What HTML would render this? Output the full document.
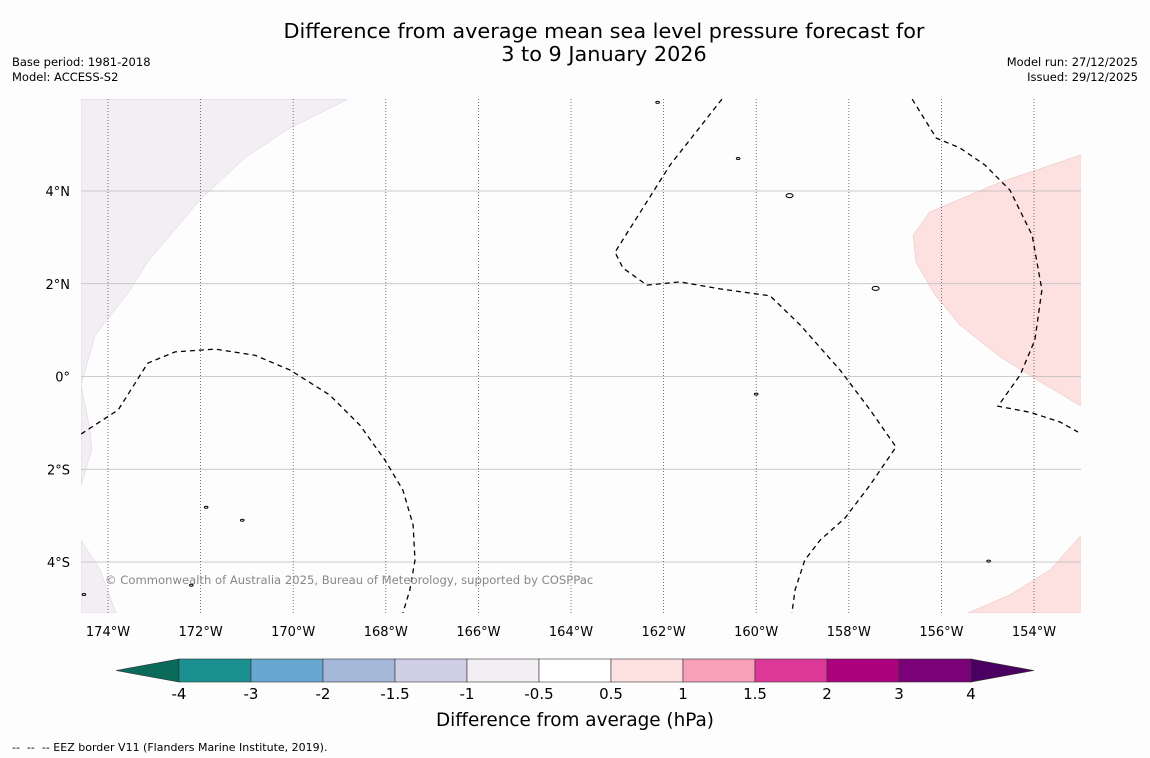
<!DOCTYPE html>
<html><head><meta charset="utf-8"><style>
body{margin:0;background:#fff;}
svg{display:block;font-family:"DejaVu Sans","Liberation Sans",sans-serif;}
</style></head><body>
<svg id="c" width="1150" height="758" viewBox="0 0 1150 758">
<rect width="1150" height="758" fill="#fdfdfd"/>
<text x="604" y="38" font-size="20.8" text-anchor="middle">Difference from average mean sea level pressure forecast for</text>
<text x="604" y="61" font-size="20.8" text-anchor="middle">3 to 9 January 2026</text>
<text x="12" y="66" font-size="11.5">Base period: 1981-2018</text>
<text x="12" y="81" font-size="11.5">Model: ACCESS-S2</text>
<text x="1138" y="66" font-size="11.5" text-anchor="end">Model run: 27/12/2025</text>
<text x="1138" y="81" font-size="11.5" text-anchor="end">Issued: 29/12/2025</text>
<g id="map"></g>
<g id="cb"></g>
<text x="575" y="726" font-size="18.4" text-anchor="middle">Difference from average (hPa)</text>
<text x="12" y="751" font-size="11" xml:space="preserve" style="white-space:pre">--  --  -- EEZ border V11 (Flanders Marine Institute, 2019).</text>
</svg>
<script>
const lonTicks=[-174,-172,-170,-168,-166,-164,-162,-160,-158,-156,-154];
const latTicks=[4,2,0,-2,-4];
const negRegion1Lon=[-174.58,-168.82,-170.07,-171.04,-172.01,-173.14,-173.52,-174.28,-174.58,-174.39,-174.35,-174.58];
const negRegion1Lat=[5.98,5.98,5.36,4.72,3.81,2.48,1.87,0.88,-0.18,-1.15,-1.58,-2.34];
const negRegion2Lon=[-174.58,-174.17,-173.83,-174.58];
const negRegion2Lat=[-3.53,-4.17,-5.1,-5.1];
const posRegion1Lon=[-152.98,-154.73,-156.25,-156.61,-156.55,-156.14,-155.60,-154.73,-153.76,-152.98];
const posRegion1Lat=[4.78,4.19,3.55,3.05,2.47,1.76,1.11,0.42,-0.18,-0.64];
const posRegion2Lon=[-155.43,-154.52,-153.65,-152.98,-152.98];
const posRegion2Lat=[-5.1,-4.71,-4.17,-3.42,-5.1];
const contour1Lon=[-174.58,-173.78,-173.14,-172.55,-171.69,-170.83,-170.07,-169.21,-168.56,-168.02,-167.63,-167.41,-167.37,-167.48,-167.63];
const contour1Lat=[-1.24,-0.72,0.29,0.53,0.59,0.46,0.14,-0.40,-1.05,-1.80,-2.45,-3.20,-3.96,-4.60,-5.1];
const contour2Lon=[-160.74,-161.86,-163.05,-162.88,-162.36,-161.65,-160.78,-159.70,-159.05,-158.19,-157.54,-156.98,-157.54,-158.08,-158.62,-158.95,-159.16,-159.23];
const contour2Lat=[5.98,4.56,2.68,2.34,1.97,2.04,1.89,1.74,1.11,0.14,-0.72,-1.52,-2.34,-3.05,-3.53,-3.96,-4.60,-5.1];
const contour3Lon=[-156.63,-156.11,-155.60,-155.06,-154.52,-154.04,-153.83,-153.98,-154.30,-154.78,-154.09,-153.44,-153.05];
const contour3Lat=[5.98,5.14,4.93,4.56,4.02,3.05,1.87,0.79,0.03,-0.64,-0.77,-0.98,-1.20];
const islandLon=[-159.28,-157.42,-171.88,-172.2,-154.98,-174.52,-162.13,-160.39,-171.1,-160.0];
const islandLat=[3.9,1.9,-2.82,-4.5,-3.98,-4.7,5.91,4.7,-3.1,-0.38];
const cbLevels=["-4","-3","-2","-1.5","-1","-0.5","0.5","1","1.5","2","3","4"];
const cbColors=["#1a9090","#68a8d0","#a6b8da","#d0cfe6","#f3eef4","#ffffff","#fde0e0","#f7a0b8","#dd3898","#ad017e","#7a0177"];

const X0=81,X1=1081,Y0=99,Y1=613;
const xS=lon=>108+(lon+174)*46.3;
const yS=lat=>376.5-lat*46.375;
const NS="http://www.w3.org/2000/svg";
const map=document.getElementById('map');
function mk(t,a,p){const e=document.createElementNS(NS,t);for(const k in a)e.setAttribute(k,a[k]);(p||map).appendChild(e);return e;}
function pts(lo,la){return lo.map((v,i)=>xS(v).toFixed(1)+','+yS(la[i]).toFixed(1)).join(' ');}
const defs=mk('defs',{});const cp=mk('clipPath',{id:'clip'},defs);mk('rect',{x:X0,y:Y0,width:X1-X0,height:Y1-Y0},cp);
const g=mk('g',{'clip-path':'url(#clip)'});
let e;
e=mk('polygon',{points:pts(negRegion1Lon,negRegion1Lat),fill:'#f2eef4',stroke:'#d8cfdc','stroke-width':0.5},g);


e=mk('polygon',{points:pts(negRegion2Lon,negRegion2Lat),fill:'#f2eef4',stroke:'#d8cfdc','stroke-width':0.5},g);


e=mk('polygon',{points:pts(posRegion1Lon,posRegion1Lat),fill:'#fde0e0',stroke:'#e8bcbc','stroke-width':0.5},g);


e=mk('polygon',{points:pts(posRegion2Lon,posRegion2Lat),fill:'#fde0e0',stroke:'#e8bcbc','stroke-width':0.5},g);


latTicks.forEach(l=>{
 e=mk('line',{x1:X0,x2:X1,y1:yS(l),y2:yS(l),stroke:'#bbb','stroke-width':0.8},g);
 
 
 e=mk('text',{x:70,y:yS(l)+5,'font-size':13,'text-anchor':'end'});
 e.textContent=l==0?'0°':Math.abs(l)+'°'+(l>0?'N':'S');
 
 
});
lonTicks.forEach(l=>{
 e=mk('line',{x1:xS(l),x2:xS(l),y1:Y0,y2:Y1,stroke:'#555','stroke-width':0.8,'stroke-dasharray':'1,2'},g);
 
 
 e=mk('text',{x:xS(l),y:636,'font-size':13,'text-anchor':'middle'});
 e.textContent=Math.abs(l)+'°W';
 
 
});
[[contour1Lon,contour1Lat,'zero-contour-west'],[contour2Lon,contour2Lat,'zero-contour-central'],[contour3Lon,contour3Lat,'zero-contour-east']].forEach(c=>{
 e=mk('polyline',{points:pts(c[0],c[1]),fill:'none',stroke:'#000','stroke-width':1.3,'stroke-dasharray':'5,4'},g);
 
 
});
islandLon.forEach((v,i)=>{
 e=mk('ellipse',{cx:xS(v),cy:yS(islandLat[i]),rx:i<2?3.5:1.8,ry:i<2?2:1,fill:'none',stroke:'#000','stroke-width':1},g);
 
 
});
e=mk('text',{x:105,y:584,'font-size':11.6,fill:'#888'});
e.textContent='© Commonwealth of Australia 2025, Bureau of Meteorology, supported by COSPPac';



const cb=document.getElementById('cb');
const cx=i=>179+i*72, cy0=659, cy1=682;
e=mk('polygon',{points:`116,670.5 ${cx(0)},${cy0} ${cx(0)},${cy1}`,fill:'#0b6b5a',stroke:'#333','stroke-width':0.6},cb);


cbColors.forEach((c,i)=>{
 e=mk('rect',{x:cx(i),y:cy0,width:72,height:cy1-cy0,fill:c,stroke:'#333','stroke-width':0.6},cb);
 
 
});
e=mk('polygon',{points:`1034,670.5 ${cx(11)},${cy0} ${cx(11)},${cy1}`,fill:'#4a0060',stroke:'#333','stroke-width':0.6},cb);


cbLevels.forEach((t,i)=>{
 e=mk('text',{x:cx(i),y:699,'font-size':15,'text-anchor':'middle'},cb);
 e.textContent=t;
 
 
});
</script>
</body></html>
